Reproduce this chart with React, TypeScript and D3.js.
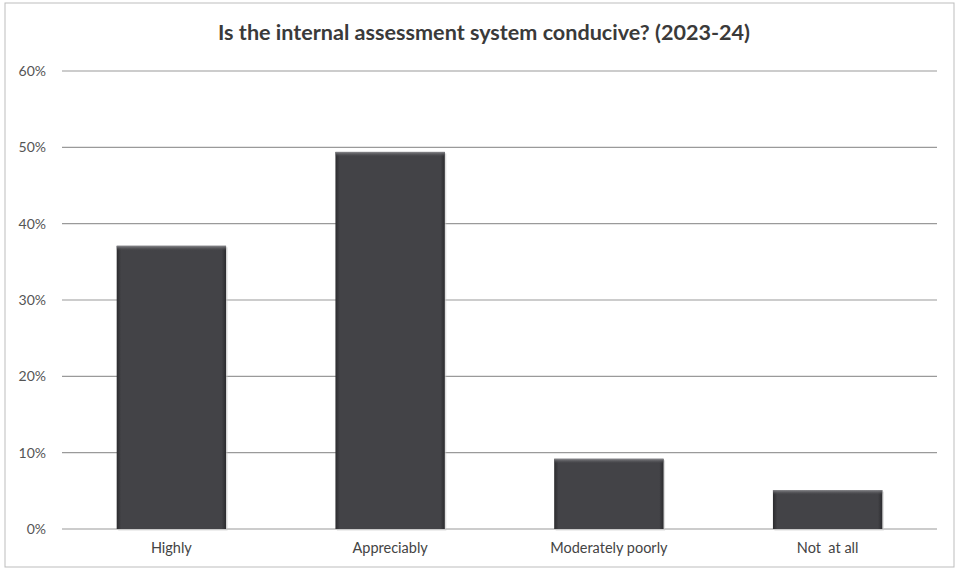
import React from 'react';
import * as d3 from 'd3';

const categories = ['Highly', 'Appreciably', 'Moderately poorly', 'Not  at all'];
const values = [0.371, 0.494, 0.092, 0.051];
const yTicks = [0, 0.1, 0.2, 0.3, 0.4, 0.5, 0.6];
const title = 'Is the internal assessment system conducive? (2023-24)';

const W = 957;
const H = 571;
const margin = { top: 71, right: 20, bottom: 42, left: 62 };

export default function App() {
  const x = d3.scaleBand<string>()
    .domain(categories)
    .range([margin.left, W - margin.right])
    .paddingInner(0.5)
    .paddingOuter(0.25);

  const y = d3.scaleLinear()
    .domain([0, 0.6])
    .range([H - margin.bottom, margin.top]);

  const fmt = d3.format('.0%');
  const font = 'Lato, "Open Sans", sans-serif';

  return (
    <svg width={W} height={H} style={{ position: 'absolute', left: 0, top: 0, background: '#fff' }}>
      <defs>
        <linearGradient id="barH" x1="0" x2="1" y1="0" y2="0">
          <stop offset="0" stopColor="#2b2b2e" />
          <stop offset="0.04" stopColor="#434347" />
          <stop offset="0.96" stopColor="#434347" />
          <stop offset="1" stopColor="#2b2b2e" />
        </linearGradient>
        <linearGradient id="barTop" x1="0" x2="0" y1="0" y2="1">
          <stop offset="0" stopColor="#8a8a8e" />
          <stop offset="1" stopColor="#434347" stopOpacity="0" />
        </linearGradient>
      </defs>
      <rect x={5} y={3} width={949} height={564} fill="#fff" stroke="#bdbdbd" strokeWidth={1} />
      <text x={484} y={40} textAnchor="middle" fontFamily={font} fontWeight="bold" fontSize={20.5} fill="#3a3a3a" textLength={532} lengthAdjust="spacingAndGlyphs">
        {title}
      </text>
      {yTicks.map(t => (
        <g key={t}>
          <line x1={margin.left} x2={W - margin.right} y1={y(t)} y2={y(t)} stroke="#9a9a9a" strokeWidth={1.2} />
          <text x={46} y={y(t)} dy="0.35em" textAnchor="end" fontFamily={font} fontSize={14} fill="#555">
            {fmt(t)}
          </text>
        </g>
      ))}
      {categories.map((c, i) => {
        const bx = x(c)!;
        const by = y(values[i]);
        const bh = y(0) - by;
        return (
          <g key={c}>
            <rect x={bx + 1.5} y={by + 1.5} width={x.bandwidth()} height={bh} fill="#c8c8c8" opacity={0.6} />
            <rect x={bx} y={by} width={x.bandwidth()} height={bh} fill="url(#barH)" />
            <rect x={bx} y={by} width={x.bandwidth()} height={Math.min(5, bh)} fill="url(#barTop)" />
            <text x={bx + x.bandwidth() / 2} y={y(0) + 24} textAnchor="middle" fontFamily={font} fontSize={14.5} fill="#444" style={{ whiteSpace: 'pre' }}>
              {c}
            </text>
          </g>
        );
      })}
    </svg>
  );
}
